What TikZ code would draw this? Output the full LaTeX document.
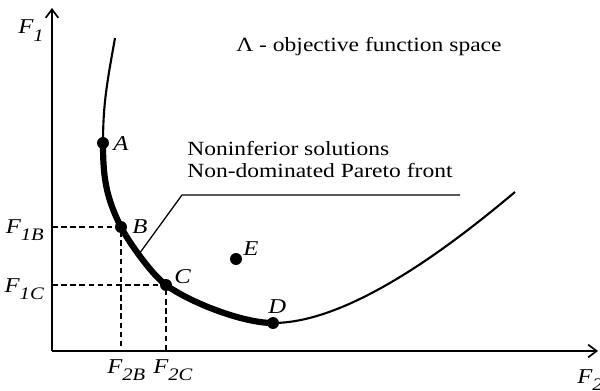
\documentclass[tikz,border=0pt]{standalone}
\usepackage{fontspec}
\setmainfont[FakeStretch=1.17]{Liberation Serif}
\usetikzlibrary{arrows.meta}
\newcommand{\Fsub}[1]{F\raisebox{-5pt}{\fontsize{12.5}{14}\selectfont #1}}

\begin{document}
\begin{tikzpicture}[
  x=0.025cm, y=0.025cm,
  axis/.style={line width=1.2pt, -{Straight Barb[length=6pt,width=9pt]}},
  guide/.style={line width=0.8pt, dash pattern=on 4pt off 2.5pt},
  curve/.style={line width=1.5pt},
  front/.style={line width=4.4pt},
  leader/.style={line width=0.9pt},
  lbl/.style={font=\fontsize{15}{18}\selectfont\itshape, inner sep=0pt},
  note/.style={font=\fontsize{14.3}{17}\selectfont, inner sep=0pt}
]
  \useasboundingbox (0,0) rectangle (600,390);

  % axes
  \coordinate (O) at (52,39);
  \coordinate (ytop) at (52,382);
  \coordinate (xend) at (598,39);
  \draw[axis] (O) -- (ytop);
  \draw[axis] (O) -- (xend);

  % points of the space
  \coordinate (top) at (115,352);
  \coordinate (A) at (103,247);
  \coordinate (B) at (121,163);
  \coordinate (C) at (166,105);
  \coordinate (D) at (273,67);
  \coordinate (E) at (236,131);
  \coordinate (tail) at (515,198);
  \coordinate (bend) at (182,195);
  \coordinate (ledge) at (460,195);

  % dashed guides to the axes
  \draw[guide] (O |- B) -- (B) -- (B |- O);
  \draw[guide] (O |- C) -- (C) -- (C |- O);

  % objective curve
  \draw[curve] (top) to[out=260, in=90] (A) to[out=270, in=117] (B)
    to[out=-63, in=144, looseness=0.6] (C) to[out=-36, in=180, looseness=0.68] (D)
    .. controls (353,67) and (459,151) .. (tail);

  % leader to the front
  \path (B) to[out=-63, in=144, looseness=0.6] coordinate[pos=0.45] (lead) (C);
  \draw[leader] (lead) -- (bend) -- (ledge);

  % Pareto front
  \draw[front] (A) to[out=270, in=117] (B)
    to[out=-63, in=144, looseness=0.6] (C) to[out=-36, in=180, looseness=0.68] (D);

  \foreach \p in {A,B,C,D,E}
    \fill (\p) circle[radius=6];

  % point labels
  \node[lbl, anchor=base west] (lA) at (113,240) {A};
  \node[lbl, anchor=base west] (lB) at (132,157) {B};
  \node[lbl, anchor=base west] (lC) at (174,107) {C};
  \node[lbl, anchor=base west] (lD) at (268,77) {D};
  \node[lbl, anchor=base west] (lE) at (243,135) {E};

  % axis labels
  \node[lbl, anchor=base west] (f1) at (18,356) {\Fsub{1}};
  \node[lbl, anchor=base west] (f2) at (577,7) {\Fsub{2}};
  \node[lbl, anchor=base east] (f1b) at (44,157) {\Fsub{1B}};
  \node[lbl, anchor=base east] (f1c) at (44,98) {\Fsub{1C}};
  \node[lbl, anchor=base west] (f2b) at (107,17) {\Fsub{2B}};
  \node[lbl, anchor=base west] (f2c) at (153,17) {\Fsub{2C}};

  % texts
  \node[note, anchor=base west] (space) at (236,339) {Λ - objective function space};
  \node[note, anchor=base west] (sol1) at (187,235) {Noninferior solutions};
  \node[note, anchor=base west] (sol2) at (187,212) {Non-dominated Pareto front};

\end{tikzpicture}
\end{document}
